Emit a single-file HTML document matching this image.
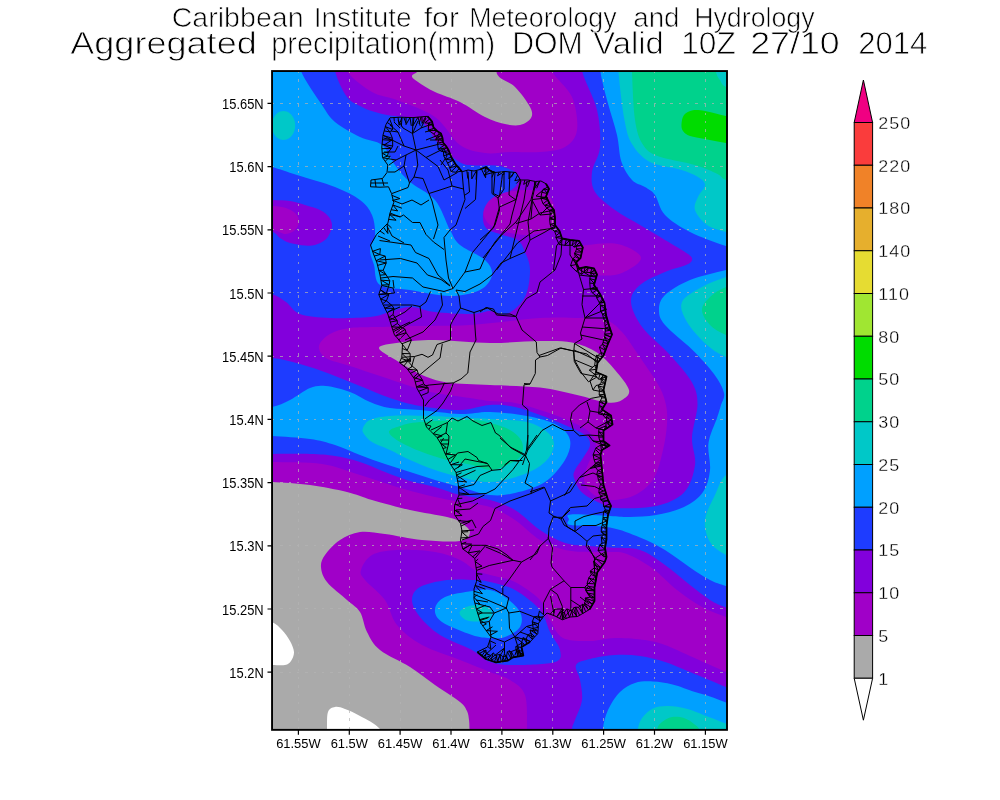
<!DOCTYPE html>
<html><head><meta charset="utf-8"><title>Aggregated precipitation</title>
<style>html,body{margin:0;padding:0;background:#fff}svg{display:block}text{font-family:"Liberation Sans",sans-serif;fill:#000}</style></head><body>
<svg width="1000" height="800" viewBox="0 0 1000 800">
<rect width="1000" height="800" fill="#fff"/>
<defs><clipPath id="pc"><rect x="272" y="71" width="455" height="659"/></clipPath></defs>
<g clip-path="url(#pc)">
<rect x="272" y="71" width="455" height="659" fill="#1e3cff"/>
<path fill="#8200dc" d="M255.0,199.0C258.0,194.7 267.2,199.7 273.0,200.0C278.8,200.3 284.7,200.2 290.0,201.0C295.3,201.8 300.0,203.5 305.0,205.0C310.0,206.5 316.0,208.0 320.0,210.0C324.0,212.0 327.0,214.5 329.0,217.0C331.0,219.5 331.8,222.3 332.0,225.0C332.2,227.7 331.2,230.5 330.0,233.0C328.8,235.5 327.5,238.0 325.0,240.0C322.5,242.0 318.3,244.1 315.0,245.0C311.7,245.9 309.2,245.8 305.0,245.5C300.8,245.2 294.2,244.2 290.0,243.0C285.8,241.8 282.8,239.8 280.0,238.0C277.2,236.2 277.2,234.0 273.0,232.0C268.8,230.0 258.0,231.5 255.0,226.0C252.0,220.5 252.0,203.3 255.0,199.0Z"/>
<path fill="#8200dc" d="M335.0,50.0C293.8,53.5 333.0,63.2 335.0,71.0C337.0,78.8 342.5,91.0 347.0,97.0C351.5,103.0 357.3,104.5 362.0,107.0C366.7,109.5 370.3,110.6 375.0,112.0C379.7,113.4 384.2,114.6 390.0,115.5C395.8,116.4 405.0,116.7 410.0,117.5C415.0,118.3 417.0,118.7 420.0,120.5C423.0,122.3 425.5,125.3 428.0,128.5C430.5,131.7 432.3,136.2 435.0,139.5C437.7,142.8 441.0,145.5 444.0,148.5C447.0,151.5 449.5,154.8 453.0,157.5C456.5,160.2 460.5,163.2 465.0,164.5C469.5,165.8 474.2,165.2 480.0,165.5C485.8,165.8 493.2,164.6 499.5,166.0C505.8,167.4 514.8,170.7 517.5,174.0C520.2,177.3 518.5,182.5 516.0,186.0C513.5,189.5 507.0,192.2 502.5,195.0C498.0,197.8 492.2,199.2 489.0,202.5C485.8,205.8 483.5,210.2 483.0,214.5C482.5,218.8 483.2,224.8 486.0,228.0C488.8,231.2 494.2,232.0 499.5,234.0C504.8,236.0 513.2,237.0 517.5,240.0C521.8,243.0 522.9,247.0 525.0,252.0C527.1,257.0 530.0,262.5 530.0,270.0C530.0,277.5 528.8,289.7 525.0,297.0C521.2,304.3 512.8,311.7 507.0,314.0C501.2,316.3 495.8,311.0 490.0,311.0C484.2,311.0 481.2,313.8 472.0,314.0C462.8,314.2 445.3,313.2 435.0,312.0C424.7,310.8 417.5,307.0 410.0,307.0C402.5,307.0 396.7,310.3 390.0,312.0C383.3,313.7 380.0,316.0 370.0,317.0C360.0,318.0 341.7,318.5 330.0,318.0C318.3,317.5 307.3,316.7 300.0,314.0C292.7,311.3 290.7,305.3 286.0,302.0C281.3,298.7 278.0,296.0 272.0,294.0C266.0,292.0 253.7,279.0 250.0,290.0C246.3,301.0 246.3,348.7 250.0,360.0C253.7,371.3 263.7,357.3 272.0,358.0C280.3,358.7 290.3,361.3 300.0,364.0C309.7,366.7 320.0,370.3 330.0,374.0C340.0,377.7 350.0,382.0 360.0,386.0C370.0,390.0 380.0,394.7 390.0,398.0C400.0,401.3 408.3,404.0 420.0,406.0C431.7,408.0 448.3,410.2 460.0,410.0C471.7,409.8 480.8,405.5 490.0,405.0C499.2,404.5 506.7,405.3 515.0,407.0C523.3,408.7 531.7,412.0 540.0,415.0C548.3,418.0 557.5,421.7 565.0,425.0C572.5,428.3 580.8,431.7 585.0,435.0C589.2,438.3 590.3,441.2 590.0,445.0C589.7,448.8 585.5,453.8 583.0,458.0C580.5,462.2 576.5,466.7 575.0,470.0C573.5,473.3 572.8,474.2 574.0,478.0C575.2,481.8 577.5,488.2 582.0,492.5C586.5,496.8 595.5,500.9 601.0,503.5C606.5,506.1 605.8,507.6 615.0,508.0C624.2,508.4 644.5,508.6 656.0,506.0C667.5,503.4 677.5,499.3 684.0,492.5C690.5,485.7 693.7,474.2 695.0,465.0C696.3,455.8 691.6,447.6 692.0,437.5C692.4,427.4 697.5,413.7 697.5,404.5C697.5,395.3 696.6,390.8 692.0,382.5C687.4,374.2 678.2,364.2 670.0,355.0C661.8,345.8 649.0,336.3 642.5,327.5C636.0,318.7 631.4,309.1 631.0,302.0C630.6,294.9 634.3,290.0 640.0,285.0C645.7,280.0 657.3,275.3 665.0,272.0C672.7,268.7 681.5,267.0 686.0,265.0C690.5,263.0 691.7,261.8 692.0,260.0C692.3,258.2 692.5,257.3 688.0,254.0C683.5,250.7 673.0,244.8 665.0,240.0C657.0,235.2 648.3,230.0 640.0,225.0C631.7,220.0 622.5,215.5 615.0,210.0C607.5,204.5 598.8,198.3 595.0,192.0C591.2,185.7 591.2,179.5 592.0,172.0C592.8,164.5 599.2,157.3 600.0,147.0C600.8,136.7 600.0,122.7 597.0,110.0C594.0,97.3 584.5,81.0 582.0,71.0C579.5,61.0 623.2,53.5 582.0,50.0C540.8,46.5 376.2,46.5 335.0,50.0Z"/>
<path fill="#8200dc" d="M250.0,454.0C253.7,404.7 262.0,454.0 272.0,454.0C282.0,454.0 299.5,453.7 310.0,454.0C320.5,454.3 326.7,454.7 335.0,456.0C343.3,457.3 351.7,459.3 360.0,462.0C368.3,464.7 376.7,468.8 385.0,472.0C393.3,475.2 401.7,478.5 410.0,481.0C418.3,483.5 426.7,484.7 435.0,487.0C443.3,489.3 450.8,492.8 460.0,495.0C469.2,497.2 480.8,497.5 490.0,500.0C499.2,502.5 506.7,505.0 515.0,510.0C523.3,515.0 531.7,524.5 540.0,530.0C548.3,535.5 556.7,540.3 565.0,543.0C573.3,545.7 582.5,545.2 590.0,546.0C597.5,546.8 601.7,546.8 610.0,547.5C618.3,548.2 630.8,547.1 640.0,550.0C649.2,552.9 656.7,559.2 665.0,565.0C673.3,570.8 682.5,579.2 690.0,585.0C697.5,590.8 704.0,596.2 710.0,600.0C716.0,603.8 719.3,604.8 726.0,607.5C732.7,610.2 746.0,592.2 750.0,616.0C754.0,639.8 833.3,727.7 750.0,750.0C666.7,772.3 333.3,799.3 250.0,750.0C166.7,700.7 246.3,503.3 250.0,454.0Z"/>
<path fill="#a000c8" d="M255.0,205.0C258.0,202.3 267.8,205.5 273.0,206.0C278.2,206.5 282.2,206.7 286.0,208.0C289.8,209.3 293.8,211.7 296.0,214.0C298.2,216.3 299.2,219.3 299.0,222.0C298.8,224.7 297.2,228.0 295.0,230.0C292.8,232.0 289.0,233.8 286.0,234.0C283.0,234.2 282.2,233.0 277.0,231.0C271.8,229.0 258.7,226.3 255.0,222.0C251.3,217.7 252.0,207.7 255.0,205.0Z"/>
<path fill="#a000c8" d="M347.0,50.0C312.8,53.5 342.8,64.0 347.0,71.0C351.2,78.0 363.7,87.2 372.0,92.0C380.3,96.8 386.5,95.8 397.0,100.0C407.5,104.2 424.5,109.5 435.0,117.0C445.5,124.5 451.7,139.0 460.0,145.0C468.3,151.0 476.7,151.8 485.0,153.0C493.3,154.2 500.8,152.2 510.0,152.0C519.2,151.8 530.8,152.8 540.0,152.0C549.2,151.2 558.8,150.7 565.0,147.0C571.2,143.3 575.8,138.3 577.0,130.0C578.2,121.7 576.2,106.8 572.0,97.0C567.8,87.2 555.3,78.8 552.0,71.0C548.7,63.2 586.2,53.5 552.0,50.0C517.8,46.5 381.2,46.5 347.0,50.0Z"/>
<path fill="#a000c8" d="M319.0,346.0C319.7,342.0 324.8,337.0 330.0,334.0C335.2,331.0 341.7,329.2 350.0,328.0C358.3,326.8 370.0,327.3 380.0,327.0C390.0,326.7 395.0,326.3 410.0,326.0C425.0,325.7 448.3,326.3 470.0,325.0C491.7,323.7 521.7,319.2 540.0,318.0C558.3,316.8 569.0,317.7 580.0,318.0C591.0,318.3 599.0,317.7 606.0,320.0C613.0,322.3 617.2,327.0 622.0,332.0C626.8,337.0 630.7,343.8 635.0,350.0C639.3,356.2 643.8,362.7 648.0,369.0C652.2,375.3 657.0,382.0 660.0,388.0C663.0,394.0 664.8,399.0 666.0,405.0C667.2,411.0 667.5,416.5 667.0,424.0C666.5,431.5 665.2,441.0 663.0,450.0C660.8,459.0 658.3,470.7 654.0,478.0C649.7,485.3 643.5,490.3 637.0,494.0C630.5,497.7 621.5,499.5 615.0,500.0C608.5,500.5 602.7,499.0 598.0,497.0C593.3,495.0 589.3,491.3 587.0,488.0C584.7,484.7 583.7,481.3 584.0,477.0C584.3,472.7 587.0,467.0 589.0,462.0C591.0,457.0 596.2,452.2 596.0,447.0C595.8,441.8 593.2,435.7 588.0,431.0C582.8,426.3 573.0,422.5 565.0,419.0C557.0,415.5 548.3,412.7 540.0,410.0C531.7,407.3 523.3,404.5 515.0,403.0C506.7,401.5 497.5,401.8 490.0,401.0C482.5,400.2 480.0,399.5 470.0,398.0C460.0,396.5 440.0,394.0 430.0,392.0C420.0,390.0 418.3,388.7 410.0,386.0C401.7,383.3 390.0,379.3 380.0,376.0C370.0,372.7 359.0,369.0 350.0,366.0C341.0,363.0 331.2,361.3 326.0,358.0C320.8,354.7 318.3,350.0 319.0,346.0Z"/>
<path fill="#a000c8" d="M483.5,212.0C483.7,208.7 485.9,204.7 488.0,202.0C490.1,199.3 492.3,197.8 496.0,196.0C499.7,194.2 504.3,192.5 510.0,191.5C515.7,190.5 524.0,189.8 530.0,190.0C536.0,190.2 542.0,190.5 546.0,193.0C550.0,195.5 552.3,200.2 554.0,205.0C555.7,209.8 557.0,217.7 556.0,222.0C555.0,226.3 552.8,228.8 548.0,231.0C543.2,233.2 533.3,234.7 527.0,235.0C520.7,235.3 515.0,234.0 510.0,233.0C505.0,232.0 500.8,230.8 497.0,229.0C493.2,227.2 489.2,224.8 487.0,222.0C484.8,219.2 483.3,215.3 483.5,212.0Z"/>
<path fill="#a000c8" d="M572.0,250.0C574.3,246.2 580.9,246.1 588.0,245.0C595.1,243.9 607.0,242.7 614.5,243.5C622.0,244.3 628.6,247.6 633.0,250.0C637.4,252.4 641.0,255.2 641.0,258.0C641.0,260.8 637.4,264.2 633.0,267.0C628.6,269.8 622.0,273.8 614.5,275.0C607.0,276.2 594.8,275.2 588.0,274.0C581.2,272.8 576.7,272.0 574.0,268.0C571.3,264.0 569.7,253.8 572.0,250.0Z"/>
<path fill="#a000c8" d="M250.0,462.0C253.7,414.0 260.0,461.7 272.0,462.0C284.0,462.3 307.3,461.8 322.0,464.0C336.7,466.2 347.5,471.2 360.0,475.0C372.5,478.8 384.5,483.3 397.0,487.0C409.5,490.7 424.5,494.5 435.0,497.0C445.5,499.5 450.8,500.3 460.0,502.0C469.2,503.7 480.8,504.0 490.0,507.0C499.2,510.0 506.7,514.5 515.0,520.0C523.3,525.5 531.7,535.0 540.0,540.0C548.3,545.0 556.7,548.0 565.0,550.0C573.3,552.0 582.5,551.7 590.0,552.0C597.5,552.3 603.8,551.7 610.0,552.0C616.2,552.3 620.0,551.3 627.0,554.0C634.0,556.7 643.7,562.0 652.0,568.0C660.3,574.0 668.7,583.5 677.0,590.0C685.3,596.5 693.8,602.5 702.0,607.0C710.2,611.5 718.0,613.8 726.0,617.0C734.0,620.2 746.0,603.8 750.0,626.0C754.0,648.2 833.3,729.3 750.0,750.0C666.7,770.7 333.3,798.0 250.0,750.0C166.7,702.0 246.3,510.0 250.0,462.0Z"/>
<path fill="#aaaaaa" d="M412.0,76.0C412.3,73.8 417.8,73.3 420.0,69.0C422.2,64.7 412.2,53.2 425.0,50.0C437.8,46.8 485.0,46.0 497.0,50.0C509.0,54.0 494.0,67.8 497.0,74.0C500.0,80.2 509.5,81.5 515.0,87.0C520.5,92.5 527.3,101.8 530.0,107.0C532.7,112.2 532.7,115.0 531.0,118.0C529.3,121.0 524.3,124.0 520.0,125.0C515.7,126.0 510.8,125.3 505.0,124.0C499.2,122.7 492.5,120.7 485.0,117.0C477.5,113.3 468.3,106.2 460.0,102.0C451.7,97.8 442.0,95.3 435.0,92.0C428.0,88.7 421.8,84.7 418.0,82.0C414.2,79.3 411.7,78.2 412.0,76.0Z"/>
<path fill="#aaaaaa" d="M379.0,348.0C379.0,344.7 390.7,343.8 400.0,342.5C409.3,341.2 420.0,339.9 435.0,340.0C450.0,340.1 472.5,342.8 490.0,343.0C507.5,343.2 526.3,341.1 540.0,341.0C553.7,340.9 562.5,340.6 572.0,342.5C581.5,344.4 589.8,347.9 597.0,352.5C604.2,357.1 609.7,363.8 615.0,370.0C620.3,376.2 627.8,385.0 629.0,390.0C630.2,395.0 625.7,397.9 622.0,400.0C618.3,402.1 614.5,403.3 607.0,402.5C599.5,401.7 588.2,397.5 577.0,395.0C565.8,392.5 554.5,389.2 540.0,387.5C525.5,385.8 505.5,385.8 490.0,385.0C474.5,384.2 458.3,384.2 447.0,382.5C435.7,380.8 429.8,378.3 422.0,375.0C414.2,371.7 407.2,367.0 400.0,362.5C392.8,358.0 379.0,351.3 379.0,348.0Z"/>
<path fill="#aaaaaa" d="M250.0,482.0C253.7,437.3 262.0,481.5 272.0,482.0C282.0,482.5 297.5,483.3 310.0,485.0C322.5,486.7 336.7,489.5 347.0,492.0C357.3,494.5 361.5,497.0 372.0,500.0C382.5,503.0 397.5,507.2 410.0,510.0C422.5,512.8 438.7,515.0 447.0,517.0C455.3,519.0 456.2,519.5 460.0,522.0C463.8,524.5 470.0,528.8 470.0,532.0C470.0,535.2 468.0,539.7 460.0,541.0C452.0,542.3 434.5,541.2 422.0,540.0C409.5,538.8 395.3,535.3 385.0,534.0C374.7,532.7 367.5,531.0 360.0,532.0C352.5,533.0 345.8,536.2 340.0,540.0C334.2,543.8 328.2,550.5 325.0,555.0C321.8,559.5 320.7,562.5 321.0,567.0C321.3,571.5 322.7,576.5 327.0,582.0C331.3,587.5 341.5,595.0 347.0,600.0C352.5,605.0 356.7,606.7 360.0,612.0C363.3,617.3 363.7,625.7 367.0,632.0C370.3,638.3 372.8,644.2 380.0,650.0C387.2,655.8 400.8,661.2 410.0,667.0C419.2,672.8 426.7,679.2 435.0,685.0C443.3,690.8 454.7,697.7 460.0,702.0C465.3,706.3 465.5,708.0 467.0,711.0C468.5,714.0 468.6,717.0 469.0,720.0C469.4,723.0 469.4,724.0 469.5,729.0C469.6,734.0 506.1,746.5 469.5,750.0C432.9,753.5 286.6,794.7 250.0,750.0C213.4,705.3 246.3,526.7 250.0,482.0Z"/>
<path fill="#ffffff" d="M255.0,618.0C257.8,610.8 267.5,620.0 272.0,622.0C276.5,624.0 279.0,626.8 282.0,630.0C285.0,633.2 288.0,637.3 290.0,641.0C292.0,644.7 293.8,648.7 294.0,652.0C294.2,655.3 292.5,658.8 291.0,661.0C289.5,663.2 288.2,664.3 285.0,665.0C281.8,665.7 277.0,665.0 272.0,665.0C267.0,665.0 257.8,672.8 255.0,665.0C252.2,657.2 252.2,625.2 255.0,618.0Z"/>
<path fill="#ffffff" d="M327.0,750.0C316.5,746.5 326.8,735.3 327.0,729.0C327.2,722.7 326.7,715.7 328.0,712.0C329.3,708.3 332.2,707.5 335.0,707.0C337.8,706.5 340.8,707.5 345.0,709.0C349.2,710.5 354.2,712.7 360.0,716.0C365.8,719.3 375.0,723.3 380.0,729.0C385.0,734.7 398.8,746.5 390.0,750.0C381.2,753.5 337.5,753.5 327.0,750.0Z"/>
<path fill="#8200dc" d="M361.0,570.0C362.2,565.8 366.0,558.3 372.0,555.0C378.0,551.7 386.5,550.5 397.0,550.0C407.5,549.5 424.5,550.3 435.0,552.0C445.5,553.7 453.3,557.0 460.0,560.0C466.7,563.0 470.0,567.5 475.0,570.0C480.0,572.5 483.3,573.0 490.0,575.0C496.7,577.0 506.7,577.8 515.0,582.0C523.3,586.2 534.2,593.7 540.0,600.0C545.8,606.3 546.2,613.7 550.0,620.0C553.8,626.3 556.3,634.5 563.0,638.0C569.7,641.5 581.3,641.0 590.0,641.0C598.7,641.0 605.8,638.2 615.0,638.0C624.2,637.8 636.7,638.8 645.0,640.0C653.3,641.2 657.5,642.3 665.0,645.0C672.5,647.7 679.8,651.5 690.0,656.0C700.2,660.5 716.0,667.8 726.0,672.0C736.0,676.2 746.0,668.0 750.0,681.0C754.0,694.0 787.2,738.5 750.0,750.0C712.8,761.5 564.2,753.5 527.0,750.0C489.8,746.5 527.3,738.2 527.0,729.0C526.7,719.8 527.8,703.2 525.0,695.0C522.2,686.8 515.8,683.8 510.0,680.0C504.2,676.2 498.3,675.3 490.0,672.0C481.7,668.7 471.3,664.5 460.0,660.0C448.7,655.5 432.5,650.8 422.0,645.0C411.5,639.2 403.2,632.5 397.0,625.0C390.8,617.5 390.3,607.5 385.0,600.0C379.7,592.5 369.0,585.0 365.0,580.0C361.0,575.0 359.8,574.2 361.0,570.0Z"/>
<path fill="#1e3cff" d="M412.0,600.0C412.0,595.0 414.2,590.3 420.0,587.0C425.8,583.7 437.8,581.2 447.0,580.0C456.2,578.8 467.8,579.7 475.0,580.0C482.2,580.3 483.3,580.3 490.0,582.0C496.7,583.7 506.7,585.3 515.0,590.0C523.3,594.7 534.2,603.0 540.0,610.0C545.8,617.0 546.7,625.3 550.0,632.0C553.3,638.7 559.2,645.0 560.0,650.0C560.8,655.0 562.5,659.5 555.0,662.0C547.5,664.5 525.8,665.0 515.0,665.0C504.2,665.0 497.2,664.5 490.0,662.0C482.8,659.5 480.3,654.5 472.0,650.0C463.7,645.5 448.7,640.5 440.0,635.0C431.3,629.5 424.7,622.8 420.0,617.0C415.3,611.2 412.0,605.0 412.0,600.0Z"/>
<path fill="#1e3cff" d="M576.0,665.0C577.7,661.5 583.5,660.7 590.0,659.0C596.5,657.3 606.7,655.5 615.0,655.0C623.3,654.5 631.7,654.8 640.0,656.0C648.3,657.2 656.7,659.3 665.0,662.0C673.3,664.7 679.8,667.8 690.0,672.0C700.2,676.2 716.0,683.0 726.0,687.0C736.0,691.0 746.0,685.5 750.0,696.0C754.0,706.5 779.8,741.0 750.0,750.0C720.2,759.0 600.7,753.5 571.0,750.0C541.3,746.5 571.3,734.0 572.0,729.0C572.7,724.0 573.3,724.8 575.0,720.0C576.7,715.2 581.2,706.7 582.0,700.0C582.8,693.3 581.0,685.8 580.0,680.0C579.0,674.2 574.3,668.5 576.0,665.0Z"/>
<path fill="#00a0ff" d="M301.0,50.0C309.5,53.5 297.5,61.8 301.0,71.0C304.5,80.2 316.3,96.5 322.0,105.0C327.7,113.5 328.7,116.7 335.0,122.0C341.3,127.3 352.2,133.2 360.0,137.0C367.8,140.8 376.2,140.3 382.0,145.0C387.8,149.7 390.3,158.8 395.0,165.0C399.7,171.2 403.3,176.2 410.0,182.0C416.7,187.8 428.3,192.0 435.0,200.0C441.7,208.0 445.8,222.5 450.0,230.0C454.2,237.5 454.2,240.0 460.0,245.0C465.8,250.0 479.7,255.0 485.0,260.0C490.3,265.0 492.8,270.0 492.0,275.0C491.2,280.0 487.0,286.5 480.0,290.0C473.0,293.5 461.7,296.0 450.0,296.0C438.3,296.0 421.7,291.8 410.0,290.0C398.3,288.2 386.0,289.2 380.0,285.0C374.0,280.8 375.7,270.8 374.0,265.0C372.3,259.2 369.8,255.0 370.0,250.0C370.2,245.0 374.7,240.8 375.0,235.0C375.3,229.2 374.5,220.8 372.0,215.0C369.5,209.2 366.2,204.7 360.0,200.0C353.8,195.3 345.5,191.2 335.0,187.0C324.5,182.8 307.5,178.3 297.0,175.0C286.5,171.7 279.8,169.0 272.0,167.0C264.2,165.0 253.7,182.5 250.0,163.0C246.3,143.5 241.5,68.8 250.0,50.0C258.5,31.2 292.5,46.5 301.0,50.0Z"/>
<path fill="#00a0ff" d="M600.0,50.0C575.1,53.7 599.2,63.1 600.5,72.0C601.8,80.9 605.2,93.0 608.0,103.5C610.8,114.0 614.8,125.2 617.0,135.0C619.2,144.8 619.0,154.5 621.5,162.0C624.0,169.5 628.1,175.8 632.0,180.0C635.9,184.2 641.2,184.5 645.0,187.0C648.8,189.5 651.7,190.3 655.0,195.0C658.3,199.7 659.2,208.8 665.0,215.0C670.8,221.2 679.8,226.8 690.0,232.0C700.2,237.2 716.0,242.7 726.0,246.0C736.0,249.3 746.0,284.7 750.0,252.0C754.0,219.3 775.0,83.7 750.0,50.0C725.0,16.3 624.9,46.3 600.0,50.0Z"/>
<path fill="#00a0ff" d="M750.0,264.0C746.0,210.2 736.0,267.3 726.0,270.0C716.0,272.7 700.2,275.8 690.0,280.0C679.8,284.2 670.2,290.0 665.0,295.0C659.8,300.0 659.0,305.0 659.0,310.0C659.0,315.0 659.5,318.4 665.0,325.0C670.5,331.6 683.8,341.3 692.0,349.5C700.2,357.7 708.7,366.8 714.0,374.0C719.3,381.2 722.8,387.8 724.0,393.0C725.2,398.2 722.2,400.8 721.0,405.0C719.8,409.2 719.1,411.7 717.0,418.0C714.9,424.3 709.7,434.3 708.5,443.0C707.3,451.7 710.9,461.8 710.0,470.0C709.1,478.2 707.3,485.8 703.0,492.0C698.7,498.2 691.8,503.2 684.0,507.0C676.2,510.8 665.0,513.3 656.0,515.0C647.0,516.7 637.7,516.8 630.0,517.0C622.3,517.2 619.8,516.4 610.0,516.0C600.2,515.6 577.8,513.9 571.0,514.5C564.2,515.1 569.0,517.8 569.0,519.5C569.0,521.2 564.2,523.7 571.0,525.0C577.8,526.3 598.5,525.4 610.0,527.5C621.5,529.6 630.8,533.8 640.0,537.5C649.2,541.2 656.7,545.0 665.0,550.0C673.3,555.0 682.5,562.5 690.0,567.5C697.5,572.5 704.0,576.9 710.0,580.0C716.0,583.1 719.3,583.8 726.0,586.0C732.7,588.2 746.0,646.7 750.0,593.0C754.0,539.3 754.0,317.8 750.0,264.0Z"/>
<path fill="#00a0ff" d="M250.0,409.0C253.7,404.2 265.3,408.5 272.0,407.0C278.7,405.5 283.7,403.2 290.0,400.0C296.3,396.8 304.0,390.3 310.0,388.0C316.0,385.7 319.3,385.3 326.0,386.0C332.7,386.7 342.7,389.3 350.0,392.0C357.3,394.7 363.3,399.3 370.0,402.0C376.7,404.7 381.7,406.7 390.0,408.0C398.3,409.3 408.3,409.0 420.0,410.0C431.7,411.0 448.3,413.7 460.0,414.0C471.7,414.3 478.8,411.7 490.0,412.0C501.2,412.3 515.8,413.8 527.0,416.0C538.2,418.2 549.8,421.0 557.0,425.0C564.2,429.0 568.7,434.2 570.0,440.0C571.3,445.8 569.2,453.0 565.0,460.0C560.8,467.0 553.3,476.5 545.0,482.0C536.7,487.5 524.2,490.8 515.0,493.0C505.8,495.2 499.2,496.0 490.0,495.0C480.8,494.0 469.2,489.5 460.0,487.0C450.8,484.5 443.3,482.5 435.0,480.0C426.7,477.5 418.3,474.7 410.0,472.0C401.7,469.3 393.3,466.8 385.0,464.0C376.7,461.2 368.3,458.2 360.0,455.0C351.7,451.8 343.3,447.7 335.0,445.0C326.7,442.3 320.5,440.5 310.0,439.0C299.5,437.5 282.0,436.5 272.0,436.0C262.0,435.5 253.7,440.5 250.0,436.0C246.3,431.5 246.3,413.8 250.0,409.0Z"/>
<path fill="#00a0ff" d="M435.0,609.0C435.5,604.8 438.8,600.0 445.0,597.0C451.2,594.0 464.5,592.2 472.0,591.0C479.5,589.8 484.5,589.0 490.0,590.0C495.5,591.0 500.0,593.3 505.0,597.0C510.0,600.7 517.5,607.0 520.0,612.0C522.5,617.0 522.5,622.8 520.0,627.0C517.5,631.2 510.0,635.2 505.0,637.0C500.0,638.8 495.5,638.3 490.0,638.0C484.5,637.7 480.0,637.7 472.0,635.0C464.0,632.3 448.2,626.3 442.0,622.0C435.8,617.7 434.5,613.2 435.0,609.0Z"/>
<path fill="#00a0ff" d="M602.0,750.0C577.5,746.5 601.8,735.7 602.8,729.0C603.8,722.3 605.1,716.2 608.0,710.0C610.9,703.8 615.5,696.5 620.0,692.0C624.5,687.5 629.5,684.8 635.0,683.0C640.5,681.2 646.8,681.2 653.0,681.5C659.2,681.8 665.5,682.8 672.5,684.5C679.5,686.2 688.8,690.0 695.0,692.0C701.2,694.0 704.8,694.8 710.0,696.5C715.2,698.2 719.3,700.1 726.0,702.5C732.7,704.9 746.0,703.1 750.0,711.0C754.0,718.9 774.7,743.5 750.0,750.0C725.3,756.5 626.5,753.5 602.0,750.0Z"/>
<path fill="#00c8c8" d="M295.2,125.5C295.2,127.9 294.6,130.7 293.6,132.8C292.6,134.9 291.1,136.9 289.4,138.1C287.7,139.3 285.5,140.0 283.5,140.0C281.5,140.0 279.3,139.3 277.6,138.1C275.9,136.9 274.4,134.9 273.4,132.8C272.4,130.7 271.8,127.9 271.8,125.5C271.8,123.1 272.4,120.3 273.4,118.2C274.4,116.1 275.9,114.1 277.6,112.9C279.3,111.7 281.5,111.0 283.5,111.0C285.5,111.0 287.7,111.7 289.4,112.9C291.1,114.1 292.6,116.1 293.6,118.2C294.6,120.3 295.2,123.1 295.2,125.5Z"/>
<path fill="#00c8c8" d="M618.5,50.0C596.6,53.7 617.5,60.3 618.5,72.0C619.5,83.7 622.2,108.0 624.5,120.0C626.8,132.0 627.8,137.0 632.0,144.0C636.2,151.0 642.0,157.8 650.0,162.0C658.0,166.2 672.0,167.0 680.0,169.5C688.0,172.0 693.8,174.4 698.0,177.0C702.2,179.6 705.0,181.7 705.0,185.0C705.0,188.3 699.7,192.8 698.0,197.0C696.3,201.2 693.5,205.3 695.0,210.0C696.5,214.7 701.8,221.3 707.0,225.0C712.2,228.7 718.8,229.8 726.0,232.0C733.2,234.2 746.0,268.3 750.0,238.0C754.0,207.7 771.9,81.3 750.0,50.0C728.1,18.7 640.4,46.3 618.5,50.0Z"/>
<path fill="#00c8c8" d="M750.0,270.0C746.0,255.3 734.0,274.2 726.0,277.0C718.0,279.8 709.3,282.8 702.0,287.0C694.7,291.2 684.5,296.2 682.0,302.0C679.5,307.8 682.8,314.8 687.0,322.0C691.2,329.2 700.5,339.2 707.0,345.0C713.5,350.8 718.8,353.7 726.0,357.0C733.2,360.3 746.0,379.5 750.0,365.0C754.0,350.5 754.0,284.7 750.0,270.0Z"/>
<path fill="#00c8c8" d="M750.0,465.0C746.0,450.0 731.8,470.0 726.0,475.0C720.2,480.0 718.5,487.5 715.0,495.0C711.5,502.5 705.8,512.2 705.0,520.0C704.2,527.8 706.5,536.2 710.0,542.0C713.5,547.8 719.3,551.2 726.0,555.0C732.7,558.8 746.0,580.0 750.0,565.0C754.0,550.0 754.0,480.0 750.0,465.0Z"/>
<path fill="#00c8c8" d="M363.0,428.0C364.0,425.7 365.5,422.0 370.0,420.0C374.5,418.0 380.0,416.7 390.0,416.0C400.0,415.3 416.7,415.7 430.0,416.0C443.3,416.3 460.0,417.5 470.0,418.0C480.0,418.5 480.5,418.3 490.0,419.0C499.5,419.7 517.5,419.8 527.0,422.0C536.5,424.2 542.5,428.2 547.0,432.0C551.5,435.8 554.3,440.0 554.0,445.0C553.7,450.0 550.3,457.0 545.0,462.0C539.7,467.0 531.2,471.7 522.0,475.0C512.8,478.3 500.3,481.7 490.0,482.0C479.7,482.3 469.2,479.0 460.0,477.0C450.8,475.0 443.3,472.8 435.0,470.0C426.7,467.2 417.5,463.3 410.0,460.0C402.5,456.7 396.3,453.0 390.0,450.0C383.7,447.0 376.3,444.7 372.0,442.0C367.7,439.3 365.5,436.3 364.0,434.0C362.5,431.7 362.0,430.3 363.0,428.0Z"/>
<path fill="#00c8c8" d="M459.5,613.0C459.5,610.8 462.9,608.3 466.0,607.0C469.1,605.7 474.3,604.9 478.0,605.0C481.7,605.1 485.7,606.1 488.0,607.5C490.3,608.9 492.0,611.5 492.0,613.5C492.0,615.5 490.3,618.2 488.0,619.5C485.7,620.8 481.7,621.4 478.0,621.5C474.3,621.6 469.1,621.4 466.0,620.0C462.9,618.6 459.5,615.2 459.5,613.0Z"/>
<path fill="#00c8c8" d="M637.0,750.0C618.3,746.5 637.1,734.4 638.0,729.0C638.9,723.6 640.0,720.9 642.5,717.5C645.0,714.1 648.8,710.4 653.0,708.5C657.2,706.6 662.2,705.9 668.0,706.0C673.8,706.1 680.5,707.1 687.5,709.0C694.5,710.9 703.6,715.1 710.0,717.5C716.4,719.9 719.3,721.1 726.0,723.5C732.7,725.9 746.0,727.6 750.0,732.0C754.0,736.4 768.8,747.0 750.0,750.0C731.2,753.0 655.7,753.5 637.0,750.0Z"/>
<path fill="#00d28c" d="M632.0,50.0C618.7,53.7 631.5,60.3 632.0,72.0C632.5,83.7 633.2,108.0 635.0,120.0C636.8,132.0 638.8,138.0 642.5,144.0C646.2,150.0 648.8,152.5 657.5,156.0C666.2,159.5 685.0,162.0 695.0,165.0C705.0,168.0 712.3,171.5 717.5,174.0C722.7,176.5 720.6,178.0 726.0,180.0C731.4,182.0 746.0,200.2 750.0,186.0C754.0,171.8 754.0,111.5 750.0,95.0C746.0,78.5 731.0,89.5 726.0,87.0C721.0,84.5 721.7,82.5 720.0,80.0C718.3,77.5 717.3,77.0 716.0,72.0C714.7,67.0 726.0,53.7 712.0,50.0C698.0,46.3 645.3,46.3 632.0,50.0Z"/>
<path fill="#00d28c" d="M750.0,280.0C746.0,270.8 732.7,284.2 726.0,287.0C719.3,289.8 714.0,293.2 710.0,297.0C706.0,300.8 702.0,305.3 702.0,310.0C702.0,314.7 706.0,320.8 710.0,325.0C714.0,329.2 719.3,332.2 726.0,335.0C732.7,337.8 746.0,351.2 750.0,342.0C754.0,332.8 754.0,289.2 750.0,280.0Z"/>
<path fill="#00d28c" d="M389.0,432.0C389.0,429.3 394.8,427.7 400.0,426.0C405.2,424.3 408.3,423.0 420.0,422.0C431.7,421.0 458.3,419.8 470.0,420.0C481.7,420.2 483.3,421.3 490.0,423.0C496.7,424.7 504.7,426.8 510.0,430.0C515.3,433.2 520.3,437.5 522.0,442.0C523.7,446.5 523.3,452.8 520.0,457.0C516.7,461.2 507.0,464.8 502.0,467.0C497.0,469.2 495.0,470.3 490.0,470.0C485.0,469.7 479.2,466.7 472.0,465.0C464.8,463.3 455.3,462.2 447.0,460.0C438.7,457.8 429.8,455.0 422.0,452.0C414.2,449.0 405.5,445.3 400.0,442.0C394.5,438.7 389.0,434.7 389.0,432.0Z"/>
<path fill="#00d28c" d="M656.0,750.0C648.5,746.7 656.0,734.7 657.0,730.0C658.0,725.3 659.5,724.2 662.0,722.0C664.5,719.8 668.3,717.7 672.0,717.0C675.7,716.3 680.3,716.8 684.0,718.0C687.7,719.2 691.3,721.8 694.0,724.0C696.7,726.2 698.7,726.7 700.0,731.0C701.3,735.3 709.3,746.8 702.0,750.0C694.7,753.2 663.5,753.3 656.0,750.0Z"/>
<path fill="#00dc00" d="M681.5,124.0C681.7,121.3 682.2,117.2 684.0,115.0C685.8,112.8 688.5,111.2 692.0,110.5C695.5,109.8 699.3,110.1 705.0,111.0C710.7,111.9 718.5,114.5 726.0,116.0C733.5,117.5 746.0,114.8 750.0,120.0C754.0,125.2 754.0,143.2 750.0,147.0C746.0,150.8 733.5,144.3 726.0,143.0C718.5,141.7 711.0,140.2 705.0,139.0C699.0,137.8 693.7,137.3 690.0,136.0C686.3,134.7 684.4,133.0 683.0,131.0C681.6,129.0 681.3,126.7 681.5,124.0Z"/>
<path d="M298.5,71V730M349.5,71V730M400.5,71V730M451.5,71V730M501.5,71V730M552.5,71V730M603.5,71V730M654.5,71V730M705.5,71V730M272,103.5H727M272,166.5H727M272,229.5H727M272,292.5H727M272,356.5H727M272,419.5H727M272,482.5H727M272,545.5H727M272,608.5H727M272,672.5H727" stroke="#b4b4b4" stroke-opacity=".7" stroke-width="1" shape-rendering="crispEdges" stroke-dasharray="2.4 5.9" fill="none"/>
<path d="M390.0,117.8L400.0,117.2L413.0,117.6L427.5,116.3L430.0,119.0L432.0,121.5L433.5,127.5L437.0,131.0L441.0,133.5L442.5,138.0L443.0,142.5L446.0,146.0L448.5,150.0L451.5,157.5L456.0,165.0L459.0,168.0L462.0,171.8L468.0,170.0L474.0,171.0L480.0,169.5L486.0,167.0L489.0,170.0L492.0,171.5L495.0,172.5L505.0,171.5L516.0,172.5L518.0,176.0L520.5,180.0L528.0,180.0L535.5,181.5L541.0,181.0L546.0,183.8L549.0,189.0L546.0,196.5L550.5,205.5L554.0,210.0L555.0,218.0L555.0,225.0L559.5,231.0L562.0,238.5L570.0,240.0L579.0,240.8L582.8,247.5L580.5,258.0L576.0,262.5L579.0,268.5L586.0,267.0L594.0,268.5L597.0,274.5L594.0,285.0L600.0,294.0L604.5,303.0L606.0,315.0L609.0,325.5L612.0,334.5L607.5,345.0L603.5,355.5L597.5,363.0L596.0,372.0L606.5,376.5L603.5,390.0L606.5,402.0L602.0,409.5L611.0,415.5L612.5,424.5L603.5,430.5L603.5,441.0L609.5,445.5L602.0,450.0L600.5,455.0L602.0,470.0L603.5,485.0L608.0,500.0L611.0,506.0L608.0,515.0L606.5,525.5L606.5,539.0L605.0,548.0L606.5,557.0L604.8,562.0L597.3,572.3L594.5,587.5L594.5,601.0L589.5,609.5L577.5,616.5L570.0,617.0L562.3,619.8L555.0,616.0L547.0,613.0L543.5,616.5L538.5,623.3L537.8,633.5L530.0,642.0L521.5,647.0L523.3,655.5L513.0,657.3L508.0,660.5L496.0,662.3L485.8,659.0L477.3,652.0L487.5,647.0L491.0,637.0L485.0,629.0L480.8,623.0L476.5,609.5L474.0,599.5L474.0,589.0L476.5,581.5L476.5,570.5L474.8,558.5L467.0,552.0L462.8,549.0L460.5,540.0L462.0,531.0L460.5,523.5L454.5,514.5L454.5,505.5L459.0,495.0L458.3,484.5L456.0,472.5L450.0,463.5L445.5,454.5L441.0,444.0L437.0,437.5L431.0,431.5L426.5,427.0L423.5,418.0L423.5,400.0L416.8,388.0L414.5,379.0L407.0,368.5L399.5,362.5L401.8,357.3L402.5,344.5L396.5,337.0L394.5,335.0L392.0,327.5L387.8,314.0L382.5,303.5L378.8,294.5L381.8,285.5L380.0,275.0L377.0,263.0L373.5,254.0L370.5,245.0L376.5,234.5L387.0,224.0L387.8,223.5L390.0,213.0L393.8,202.5L391.5,193.5L388.5,186.8L380.0,187.2L370.5,186.8L371.0,180.0L382.5,178.5L387.0,172.5L387.8,165.0L382.5,157.5L381.8,147.0L383.0,135.0L386.0,124.5L390.0,117.8M413.0,118.0L412.5,133.5L416.0,150.0L417.8,165.0L414.0,177.0L409.5,183.0L408.0,187.5L392.0,193.5M414.0,177.0L423.0,178.5L429.0,193.5L432.0,201.0L438.0,225.0L433.5,239.0M416.0,150.0L439.5,144.0L444.0,145.0M416.0,150.0L426.0,157.5L438.0,166.5L444.0,180.0L457.5,172.5M426.0,157.5L444.0,148.5L447.0,156.0L441.0,165.0M416.0,150.0L404.0,146.0L392.0,140.0L383.5,138.0M404.0,146.0L398.0,132.0L390.0,125.0M412.5,133.5L403.0,128.0L398.0,120.0M412.5,133.5L421.0,128.0L426.0,118.0M416.0,150.0L406.0,155.0L396.0,160.0L384.0,158.0M406.0,155.0L404.0,166.0L395.0,172.0L388.0,172.0M404.0,166.0L409.5,183.0M398.0,132.0L391.0,131.0M412.5,133.5L418.0,121.0M421.0,128.0L432.0,124.0M426.0,140.0L441.0,134.0M392.0,140.0L384.0,145.0M396.0,160.0L389.0,165.0M382.0,178.5L384.0,186.0M375.0,180.0L376.0,187.0M371.0,183.0L388.0,183.0M462.0,171.8L463.5,189.0L465.0,199.5L456.0,225.0L450.0,230.0L444.0,237.5M465.0,195.0L469.5,192.0L468.0,172.0M477.0,171.0L475.5,199.5L465.0,208.5M492.0,172.5L492.0,193.5L498.0,198.0L504.0,189.0L504.0,172.5M498.0,198.0L499.5,210.0L495.0,225.0L487.5,234.5L472.5,252.5L465.0,272.0L453.0,288.5M510.0,172.0L509.0,195.0L516.0,200.0L521.0,181.0M516.0,200.0L512.0,215.0L510.0,224.0L495.0,242.0L484.5,258.5L480.0,269.0L465.0,272.0M527.0,181.0L524.0,200.0L518.0,225.0L510.0,258.5L501.0,263.0L492.0,275.0L480.0,284.0L465.0,291.5L456.0,290.0M536.0,182.0L532.0,200.0L540.0,215.0L548.0,207.0M532.0,200.0L528.0,222.0L530.0,240.0L545.0,232.0L555.0,226.0M530.0,240.0L525.0,252.0L510.0,258.5M540.0,215.0L552.0,214.0M543.0,190.0L536.0,196.0L548.0,198.0M403.5,215.0L412.5,222.5L420.0,222.5L426.0,234.5L433.5,242.0L444.0,249.5M444.0,237.5L446.0,260.0L448.5,278.0L453.0,288.5M379.5,240.5L411.0,245.0L415.5,252.5L429.0,258.5L438.0,275.0L450.0,285.5M379.5,260.0L400.5,258.5L417.0,263.0L427.5,275.0L441.0,279.5L450.0,286.0M381.0,278.0L393.0,276.5L412.5,278.0L423.0,287.0L444.0,291.5L453.0,288.5M387.0,226.0L392.0,236.0L404.0,243.0M378.0,236.0L390.0,241.0M381.8,285.5L393.0,288.0L394.5,293.0L379.0,294.5M393.0,280.0L394.0,288.0M459.0,296.0L460.5,308.0L474.0,312.5L487.5,308.0L498.0,314.0L510.0,314.0L516.0,316.5M456.0,290.0L459.0,296.0M460.5,308.0L453.0,320.0L450.5,325.0L450.5,340.0L437.0,344.5L432.5,355.0L428.0,357.3L422.0,354.3L414.5,356.5L401.8,357.3M474.0,312.5L475.5,335.0L476.0,340.0L470.0,352.0L467.8,373.0L461.0,379.0L453.5,382.8L450.5,391.0L443.0,403.0L437.0,410.5L425.0,418.8M441.0,293.0L442.5,305.0L435.0,320.0L423.0,332.0L405.0,340.0M430.5,291.5L426.0,302.0L420.0,306.5L421.5,317.0L405.0,326.0L396.0,333.0M384.0,305.0L412.5,305.0L420.0,306.5M390.0,320.0L405.0,312.0L412.0,306.0M388.0,312.0L400.0,307.0M393.0,330.0L410.0,322.0M442.3,343.8L440.0,358.0L431.0,365.5L422.0,373.0L414.5,379.0M414.5,356.5L411.5,367.0M444.5,382.8L440.0,392.5L429.5,400.0L425.0,406.0M453.5,382.8L429.5,385.0L417.5,387.3M570.0,255.0L576.0,264.0L583.5,289.5L582.0,304.5L585.0,318.0L580.5,333.0L582.0,339.0L574.5,343.5L573.8,351.0L574.5,360.0L582.0,373.5L588.5,381.8L597.0,377.0M561.0,255.0L555.0,270.0L540.0,282.0L537.0,292.5L526.5,298.5L519.0,309.0L516.0,316.5L522.0,330.0L536.3,342.0L537.0,352.5L540.0,357.0L535.5,360.0L535.3,373.5L530.0,384.0L524.0,384.8L522.5,405.0L527.8,409.5L527.8,450.0L525.5,456.0L522.5,465.0M562.0,238.5L561.0,255.0M516.0,316.5L496.5,315.0L493.5,309.0L486.0,307.5L480.0,312.0M540.0,357.0L547.5,355.5L561.0,348.0L573.8,351.0M539.0,355.5L560.0,348.0L573.5,351.0L587.0,354.0L597.5,363.0M573.5,351.0L574.3,361.5L581.0,373.5L596.0,376.5M575.0,360.0L593.0,367.5M583.5,289.5L598.0,288.0M582.0,296.0L601.0,296.0M585.0,318.0L603.0,300.0M585.0,318.0L606.0,318.0M585.0,318.0L607.0,309.0M582.0,327.0L609.0,329.0M580.5,335.0L608.0,341.0M574.5,343.5L600.0,359.0M574.0,350.0L598.0,361.0M579.0,275.0L596.0,277.0M577.0,268.0L590.0,276.0M593.0,390.0L596.0,385.5L603.0,384.0M596.0,372.0L590.0,381.0L593.0,390.0L603.5,392.0M591.5,398.3L579.5,405.0L572.0,412.5L570.5,420.0L573.5,430.5L579.5,435.8L588.5,435.0L593.0,441.0L603.0,442.0M603.5,396.0L591.5,398.3M587.0,402.0L590.0,411.0L599.0,412.5L602.0,409.5M590.0,411.0L588.0,422.0L596.0,428.0L604.0,430.0M588.0,422.0L580.0,428.0M527.8,450.0L542.0,430.5L552.5,424.5L564.5,430.5L573.5,430.5M500.0,438.0L512.0,448.5L525.5,456.0M504.5,465.0L510.5,460.5L522.5,460.5M524.0,383.5L530.0,384.0M431.0,430.0L447.5,422.5L446.0,433.0L437.0,437.5M447.5,422.5L452.0,418.0L458.0,421.0L467.0,416.5L473.0,421.0L482.0,425.5L491.0,422.5L495.5,433.0L498.8,435.0L510.0,447.0L525.0,454.5M446.0,433.0L449.0,436.0L448.5,444.0L441.0,444.0M440.0,440.0L448.5,440.0M448.5,444.0L446.0,454.0M450.0,463.5L457.5,453.0L468.0,451.5L477.0,457.5L478.5,460.5L487.5,463.5L492.0,470.3L501.0,469.5L510.0,460.5L519.0,461.3L525.0,454.5M528.0,435.0L526.5,450.0L525.0,454.5L529.5,463.5L528.0,474.0L525.0,483.0L532.5,487.5L531.0,493.5L544.5,487.5L550.5,501.0L549.0,513.0L553.5,516.0L549.0,528.0L548.3,538.5L540.0,546.0L534.0,555.0L530.0,560.0M537.0,435.0L526.5,450.0M531.0,493.5L510.0,501.0L495.0,508.5L490.5,520.5L483.0,526.5L478.5,534.0L462.0,540.0M519.0,461.3L513.0,469.5L495.0,489.0L486.0,493.5L459.0,495.0M492.0,470.3L480.0,475.5L474.0,484.5L459.0,488.3M457.5,468.0L465.0,459.0L487.5,463.5M456.0,472.5L477.0,466.5L489.0,465.8M457.5,478.5L475.5,470.3M454.5,505.0L472.5,501.0L484.5,495.0M456.0,510.0L470.0,509.0L478.0,503.0M460.5,523.5L472.0,520.0L476.0,528.0M461.0,531.0L474.0,530.0M544.5,487.5L543.5,487.3L530.0,491.8M550.5,501.0L570.0,492.0L579.5,477.5L590.0,468.5L601.0,459.0M564.5,495.5L572.0,483.5M553.3,517.3L562.3,517.3L570.5,507.5L587.0,506.0L594.5,498.5L607.0,495.0M562.3,517.3L567.5,527.0L575.0,531.5L575.0,521.0L584.0,516.5L596.0,513.5L608.0,511.0M575.0,531.5L582.5,525.5L596.0,525.5L606.5,521.0M575.0,531.5L581.0,536.0L587.0,541.3L593.0,536.0L606.5,534.5M587.0,541.3L586.3,546.5L594.5,557.0L594.5,572.0M579.5,477.5L593.0,473.0L602.0,477.0M581.0,485.0L594.5,486.5L603.5,491.0M590.0,468.5L601.0,466.0M553.5,516.0L561.0,519.0L570.0,510.0M561.0,519.0L564.0,525.0L575.0,531.5M548.0,537.5L552.5,548.0L551.0,563.0L552.0,567.0L564.0,580.8L570.8,587.5L570.8,609.5L564.0,618.0M462.8,549.0L469.5,545.3L486.0,545.3L498.0,549.0L507.0,555.0L513.0,560.3M474.8,558.5L485.8,545.3M476.5,570.5L489.3,565.5L513.0,560.3L521.5,562.0L536.8,553.5L540.3,545.0M485.8,547.0L500.0,553.0L513.0,560.3M521.5,562.0L509.5,579.0L502.8,587.5L502.8,594.3L494.3,589.3L479.0,584.0M502.8,594.3L508.8,597.8L506.3,608.0L474.0,594.3M506.3,608.0L508.8,613.0L519.8,611.3L536.8,618.0L543.5,616.5M508.8,613.0L509.5,628.3L514.8,636.8L504.5,642.0L491.0,637.0M514.8,636.8L526.5,626.5L538.5,623.3M504.5,642.0L504.5,653.8L508.0,660.5M514.8,636.8L518.0,647.0L514.8,655.5M477.3,613.0L494.3,613.0L506.3,608.0M494.3,613.0L489.3,621.5L491.0,637.0M479.0,619.8L489.3,617.0M478.0,604.0L490.0,607.0L494.3,613.0M480.0,623.0L489.3,621.5M476.0,600.0L488.0,602.0M514.8,636.8L524.0,644.0M514.8,636.8L530.0,641.0M520.0,632.0L534.0,637.0M526.5,626.5L537.0,630.0M504.5,648.0L497.0,661.0M504.5,648.0L490.0,659.0M496.0,645.0L484.0,656.0M504.5,653.8L502.0,661.0M509.0,650.0L512.0,657.0M518.0,647.0L521.0,655.0M564.0,580.8L550.5,589.3L543.5,602.8L543.5,614.8M550.5,589.3L557.3,594.3L562.3,606.3L562.3,619.0M550.5,596.0L553.8,613.0M570.8,587.5L584.5,587.5L594.5,577.3M584.5,587.5L589.5,596.0L594.5,601.0M570.8,600.0L580.0,606.0L583.0,614.0M570.8,609.5L577.5,616.5M580.0,597.0L589.0,604.0M584.5,587.5L594.0,590.0M587.8,545.0L594.5,558.5L604.8,562.0M594.5,558.5L605.0,552.0M594.5,565.0L601.0,568.0M594.5,572.0L596.0,580.0M588.5,435.0L603.0,436.0M593.0,441.0L608.0,447.0M596.0,450.0L601.0,455.0M590.0,468.5L601.0,463.0M596.0,428.0L611.0,420.0M599.0,412.5L610.0,416.0M495.0,172.5L493.5,193.5L499.5,196.5L502.5,174.0M520.5,180.0L516.0,199.5L499.5,207.0L493.5,228.0L480.0,240.0M535.5,181.5L531.0,199.5L516.0,222.0L502.5,234.0L483.0,258.0M546.0,198.0L532.5,199.5L531.0,219.0L516.0,223.5M554.0,210.0L540.0,213.0L531.0,219.0M555.0,228.0L534.0,231.0L517.5,243.0L496.5,270.0M562.0,238.5L556.5,246.0L553.5,270.0L555.0,270.0M570.0,240.0L570.0,255.0M440.0,160.0L448.0,170.0L452.0,186.0L463.5,189.0M429.0,193.5L440.0,190.0L452.0,186.0M398.0,146.0L395.0,152.0L384.0,152.0M400.0,128.0L394.0,122.0M406.0,123.0L404.0,118.0M419.0,124.0L421.0,117.0M425.0,132.0L433.0,130.0M430.0,140.0L443.0,140.0M392.0,200.0L402.0,204.0L412.0,200.0L421.0,205.0L429.0,200.0M390.0,213.0L400.0,217.0L403.5,215.0M429.9,118.9L424.8,122.8M432.0,121.6L428.1,123.2M428.1,123.2L432.9,125.0M432.9,125.0L428.7,125.1M434.2,128.2L428.2,130.2M428.2,130.2L436.6,130.6M436.6,130.6L433.9,134.0M439.5,132.6L436.5,137.5M436.5,137.5L441.6,135.2M441.6,135.2L435.7,139.4M442.6,138.5L439.3,138.8M439.3,138.8L442.9,142.0M442.9,142.0L437.5,143.1M444.9,144.8L438.3,149.2M438.3,149.2L447.0,147.6M447.0,147.6L441.2,151.3M448.7,150.6L443.5,151.7M443.5,151.7L450.0,153.9M450.0,153.9L443.7,155.8M451.3,157.1L445.5,159.3M445.5,159.3L453.1,160.2M453.1,160.2L447.6,163.0M454.9,163.2L449.7,167.7M449.7,167.7L457.0,166.0M457.0,166.0L451.1,171.7M459.4,168.5L455.7,172.2M455.7,172.2L461.5,171.2M424.8,122.8L428.1,123.2L428.7,125.1L428.2,130.2L433.9,134.0L436.5,137.5L435.7,139.4L439.3,138.8L437.5,143.1L438.3,149.2L441.2,151.3L443.5,151.7L443.7,155.8L445.5,159.3L447.6,163.0L449.7,167.7L451.1,171.7L455.7,172.2M394.0,117.6L394.3,121.6M398.0,117.3L399.1,125.3M399.1,125.3L402.0,117.3M402.0,117.3L401.3,126.5M406.0,117.4L406.0,124.6M406.0,124.6L410.0,117.5M410.0,117.5L411.3,125.9M414.0,117.5L412.9,125.8M412.9,125.8L418.0,117.2M418.0,117.2L420.2,125.8M421.9,116.8L422.1,123.4M422.1,123.4L425.9,116.4M385.2,161.3L390.3,156.4M382.6,157.7L387.5,156.2M387.5,156.2L382.2,153.2M382.2,153.2L388.3,152.3M381.9,148.7L391.4,148.4M391.4,148.4L382.1,144.2M382.1,144.2L392.7,146.0M382.5,139.7L392.6,140.5M392.6,140.5L383.0,135.3M383.0,135.3L392.5,138.4M384.2,130.9L389.8,131.9M389.8,131.9L385.4,126.6M385.4,126.6L392.5,129.5M387.2,122.5L392.3,125.8M392.3,125.8L389.5,118.7M390.3,156.4L387.5,156.2L388.3,152.3L391.4,148.4L392.7,146.0L392.6,140.5L392.5,138.4L389.8,131.9L392.5,129.5L392.3,125.8M466.8,170.4L467.8,178.6M471.7,170.6L471.8,178.9M471.8,178.9L476.6,170.4M476.6,170.4L476.1,179.6M481.4,168.9L485.6,177.8M485.6,177.8L486.0,167.0M486.0,167.0L484.5,171.9M489.6,170.3L483.9,175.0M483.9,175.0L494.2,172.2M494.2,172.2L491.9,177.3M499.2,172.1L497.5,175.8M497.5,175.8L504.2,171.6M504.2,171.6L503.7,175.0M509.1,171.9L509.0,179.0M509.0,179.0L514.1,172.3M514.1,172.3L511.3,177.3M517.5,175.2L514.8,180.7M514.8,180.7L520.2,179.5M520.2,179.5L516.3,183.5M524.9,180.0L523.7,184.4M523.7,184.4L529.8,180.4M529.8,180.4L527.3,186.8M534.7,181.3L534.2,188.8M534.2,188.8L539.7,181.1M539.7,181.1L536.7,188.3M547.8,186.9L542.9,189.9M548.6,190.1L543.9,188.8M543.9,188.8L547.2,193.5M547.2,193.5L541.8,192.3M546.1,196.8L540.9,198.0M540.9,198.0L547.8,200.0M547.8,200.0L543.0,203.8M549.4,203.2L544.8,205.3M544.8,205.3L551.1,206.3M551.1,206.3L546.5,207.8M553.4,209.2L549.5,210.1M549.5,210.1L554.3,212.5M554.3,212.5L550.2,213.5M554.8,216.1L549.9,218.0M549.9,218.0L555.0,219.7M555.0,219.7L549.6,219.1M555.0,223.3L550.1,224.3M550.1,224.3L556.1,226.5M556.1,226.5L551.7,229.4M558.3,229.4L554.6,231.2M554.6,231.2L560.0,232.5M560.0,232.5L556.2,235.5M561.1,235.9L555.9,237.4M555.9,237.4L562.9,238.7M562.9,238.7L559.2,244.5M566.4,239.3L564.9,245.3M564.9,245.3L569.9,240.0M569.9,240.0L569.7,245.3M573.5,240.3L572.2,245.3M572.2,245.3L577.1,240.6M577.1,240.6L574.3,247.2M579.8,242.3L575.6,246.3M575.6,246.3L581.6,245.4M581.6,245.4L575.8,246.0M582.5,248.7L576.6,248.9M576.6,248.9L581.8,252.2M581.8,252.2L575.4,251.9M581.0,255.7L574.5,253.2M574.5,253.2L579.6,258.9M579.6,258.9L575.3,256.7M577.1,261.4L573.0,258.5M573.0,258.5L576.9,264.4M576.9,264.4L570.5,265.7M578.5,267.6L576.5,271.5M576.5,271.5L581.5,268.0M581.5,268.0L581.9,274.3M585.1,267.2L584.0,272.1M584.0,272.1L588.6,267.5M588.6,267.5L586.6,272.4M592.1,268.1L590.5,272.5M590.5,272.5L594.8,270.0M594.8,270.0L590.3,273.4M596.4,273.2L592.2,273.3M592.2,273.3L596.4,276.6M596.4,276.6L590.5,275.2M595.4,280.1L589.8,278.6M589.8,278.6L594.4,283.5M594.4,283.5L589.8,283.1M595.1,286.7L590.3,288.9M590.3,288.9L597.1,289.7M597.1,289.7L592.4,292.9M599.1,292.7L596.2,295.9M596.2,295.9L600.9,295.8M600.9,295.8L596.8,298.0M602.5,299.0L599.2,302.3M599.2,302.3L604.1,302.3M604.1,302.3L599.3,303.4M604.8,305.8L600.4,305.1M600.4,305.1L605.3,309.3M605.3,309.3L600.6,311.2M605.7,312.9L602.4,314.0M602.4,314.0L606.4,316.4M606.4,316.4L603.7,318.7M607.4,319.9L604.7,320.7M604.7,320.7L608.4,323.4M608.4,323.4L605.0,325.7M609.4,326.8L605.4,328.1M605.4,328.1L610.6,330.2M610.6,330.2L605.4,331.1M611.7,333.6L604.7,334.1M604.7,334.1L610.9,337.0M610.9,337.0L605.0,335.0M609.5,340.3L604.6,336.9M604.6,336.9L608.1,343.6M608.1,343.6L603.0,342.5M606.8,346.9L602.5,344.2M602.5,344.2L605.5,350.3M605.5,350.3L599.4,347.1M604.2,353.7L601.1,352.6M601.1,352.6L602.5,356.8M602.5,356.8L597.9,355.6M600.2,359.6L596.7,355.1M596.7,355.1L598.0,362.4M598.0,362.4L595.3,360.5M597.0,365.8L594.7,365.4M594.7,365.4L596.4,369.3M596.4,369.3L589.3,370.2M596.8,372.4L595.0,374.6M595.0,374.6L600.1,373.8M600.1,373.8L598.5,379.2M603.4,375.2L600.5,379.2M600.5,379.2L606.4,376.8M606.4,376.8L601.5,377.5M605.7,380.3L601.2,378.9M601.2,378.9L604.9,383.8M604.9,383.8L601.3,382.2M604.1,387.3L598.2,386.0M598.2,386.0L603.7,390.8M603.7,390.8L599.4,389.7M604.6,394.3L599.2,394.8M599.2,394.8L605.5,397.8M605.5,397.8L601.9,397.9M606.3,401.3L600.2,400.9M600.2,400.9L605.0,404.5M605.0,404.5L599.4,401.8M603.2,407.5L599.3,405.3M599.3,405.3L603.1,410.2M603.1,410.2L598.6,413.8M606.1,412.2L603.0,414.9M603.0,414.9L609.1,414.2M609.1,414.2L605.3,417.8M611.2,416.8L606.3,417.3M606.3,417.3L611.8,420.3M611.8,420.3L606.9,421.8M612.4,423.9L607.5,422.0M607.5,422.0L610.0,426.2M610.0,426.2L606.0,422.2M607.0,428.2L606.0,425.9M606.0,425.9L604.0,430.1M604.0,430.1L599.0,428.7M603.5,433.5L598.7,431.7M598.7,431.7L603.5,437.1M603.5,437.1L598.8,437.1M603.5,440.7L599.8,440.9M599.8,440.9L606.1,443.0M606.1,443.0L602.2,446.0M609.0,445.1L604.1,445.3M604.1,445.3L607.0,447.0M607.0,447.0L604.7,443.7M603.9,448.9L600.7,445.0M600.7,445.0L601.6,451.4M601.6,451.4L595.9,447.9M600.6,454.8L593.1,454.8M593.1,454.8L600.8,458.4M600.8,458.4L594.1,459.8M601.2,462.0L595.4,463.3M595.4,463.3L601.6,465.5M601.6,465.5L594.6,466.2M601.9,469.1L597.9,470.5M597.9,470.5L602.3,472.7M602.3,472.7L596.6,474.4M602.6,476.3L597.7,476.1M597.7,476.1L603.0,479.9M603.0,479.9L598.4,479.8M603.3,483.5L600.5,484.2M600.5,484.2L604.1,487.0M604.1,487.0L599.2,488.8M605.1,490.4L598.9,492.7M598.9,492.7L606.2,493.9M606.2,493.9L600.7,495.6M607.2,497.3L600.7,499.7M600.7,499.7L608.4,500.7M608.4,500.7L603.2,501.7M610.0,503.9L603.7,506.5M603.7,506.5L610.6,507.2M610.6,507.2L604.2,506.4M609.5,510.6L605.3,509.8M605.3,509.8L608.3,514.0M608.3,514.0L603.6,511.5M607.6,517.6L603.0,517.6M603.0,517.6L607.1,521.1M607.1,521.1L602.9,519.1M606.6,524.7L602.3,524.9M602.3,524.9L606.5,528.3M606.5,528.3L601.4,527.6M606.5,531.9L601.3,531.8M601.3,531.8L606.5,535.5M606.5,535.5L603.8,534.6M606.5,539.1L601.3,537.2M601.3,537.2L605.9,542.6M605.9,542.6L602.0,543.2M605.3,546.2L599.8,544.9M599.8,544.9L605.3,549.7M605.3,549.7L598.1,550.5M605.9,553.3L602.1,555.2M602.1,555.2L606.5,556.8M606.5,556.8L603.5,556.6M542.9,189.9L543.9,188.8L541.8,192.3L540.9,198.0L543.0,203.8L544.8,205.3L546.5,207.8L549.5,210.1L550.2,213.5L549.9,218.0L549.6,219.1L550.1,224.3L551.7,229.4L554.6,231.2L556.2,235.5L555.9,237.4L559.2,244.5L564.9,245.3L569.7,245.3L572.2,245.3L574.3,247.2L575.6,246.3L575.8,246.0L576.6,248.9L575.4,251.9L574.5,253.2L575.3,256.7L573.0,258.5L570.5,265.7L576.5,271.5L581.9,274.3L584.0,272.1L586.6,272.4L590.5,272.5L590.3,273.4L592.2,273.3L590.5,275.2L589.8,278.6L589.8,283.1L590.3,288.9L592.4,292.9L596.2,295.9L596.8,298.0L599.2,302.3L599.3,303.4L600.4,305.1L600.6,311.2L602.4,314.0L603.7,318.7L604.7,320.7L605.0,325.7L605.4,328.1L605.4,331.1L604.7,334.1L605.0,335.0L604.6,336.9L603.0,342.5L602.5,344.2L599.4,347.1L601.1,352.6L597.9,355.6L596.7,355.1L595.3,360.5L594.7,365.4L589.3,370.2L595.0,374.6L598.5,379.2L600.5,379.2L601.5,377.5L601.2,378.9L601.3,382.2L598.2,386.0L599.4,389.7L599.2,394.8L601.9,397.9L600.2,400.9L599.4,401.8L599.3,405.3L598.6,413.8L603.0,414.9L605.3,417.8L606.3,417.3L606.9,421.8L607.5,422.0L606.0,422.2L606.0,425.9L599.0,428.7L598.7,431.7L598.8,437.1L599.8,440.9L602.2,446.0L604.1,445.3L604.7,443.7L600.7,445.0L595.9,447.9L593.1,454.8L594.1,459.8L595.4,463.3L594.6,466.2L597.9,470.5L596.6,474.4L597.7,476.1L598.4,479.8L600.5,484.2L599.2,488.8L598.9,492.7L600.7,495.6L600.7,499.7L603.2,501.7L603.7,506.5L604.2,506.4L605.3,509.8L603.6,511.5L603.0,517.6L602.9,519.1L602.3,524.9L601.4,527.6L601.3,531.8L603.8,534.6L601.3,537.2L602.0,543.2L599.8,544.9L598.1,550.5L602.1,555.2L603.5,556.6M602.7,564.8L596.3,559.0M600.7,567.7L593.6,561.2M593.6,561.2L598.6,570.5M598.6,570.5L594.4,567.8M597.1,573.5L590.2,571.1M590.2,571.1L596.4,577.0M596.4,577.0L591.3,574.5M595.8,580.4L588.8,577.9M588.8,577.9L595.2,583.9M595.2,583.9L587.1,583.4M594.5,587.3L588.1,586.4M588.1,586.4L594.5,590.8M594.5,590.8L585.7,590.4M594.5,594.3L587.2,593.0M587.2,593.0L594.5,597.8M594.5,597.8L590.1,597.1M594.3,601.3L585.2,598.1M585.2,598.1L592.6,604.3M592.6,604.3L585.6,600.4M590.8,607.3L584.5,603.1M584.5,603.1L588.7,610.0M588.7,610.0L584.9,605.5M585.7,611.7L582.6,604.3M582.6,604.3L582.6,613.5M582.6,613.5L578.5,607.3M579.6,615.3L575.6,607.2M575.6,607.2L576.5,616.6M576.5,616.6L573.4,607.9M573.0,616.8L571.8,611.2M571.8,611.2L569.5,617.2M569.5,617.2L566.8,608.9M566.2,618.4L564.3,612.3M564.3,612.3L562.9,619.6M562.9,619.6L561.9,613.2M559.8,618.5L563.2,609.7M563.2,609.7L556.7,616.9M556.7,616.9L561.9,608.9M553.5,615.4L554.7,609.2M554.7,609.2L550.2,614.2M596.3,559.0L593.6,561.2L594.4,567.8L590.2,571.1L591.3,574.5L588.8,577.9L587.1,583.4L588.1,586.4L585.7,590.4L587.2,593.0L590.1,597.1L585.2,598.1L585.6,600.4L584.5,603.1L584.9,605.5L582.6,604.3L578.5,607.3L575.6,607.2L573.4,607.9L571.8,611.2L566.8,608.9L564.3,612.3L561.9,613.2L563.2,609.7L561.9,608.9L554.7,609.2M544.5,615.5L539.4,611.1M542.3,618.2L538.4,616.1M538.4,616.1L540.2,621.0M540.2,621.0L534.2,616.9M538.5,623.9L532.3,621.7M532.3,621.7L538.2,627.4M538.2,627.4L533.2,628.4M538.0,630.9L533.4,630.6M533.4,630.6L537.2,634.2M537.2,634.2L530.0,630.0M534.8,636.7L530.8,633.1M530.8,633.1L532.5,639.3M532.5,639.3L527.8,635.2M530.1,641.9L526.1,639.2M526.1,639.2L527.1,643.7M527.1,643.7L523.2,637.6M524.1,645.5L521.4,643.2M521.4,643.2L521.6,647.5M521.6,647.5L515.8,646.6M522.3,650.9L516.2,651.0M516.2,651.0L523.1,654.3M523.1,654.3L517.7,654.0M521.0,655.9L518.9,650.3M518.9,650.3L517.6,656.5M517.6,656.5L516.7,649.4M514.1,657.1L511.3,651.6M511.3,651.6L511.0,658.6M511.0,658.6L507.3,651.8M508.1,660.4L506.6,656.2M506.6,656.2L504.6,661.0M504.6,661.0L502.7,656.5M501.2,661.5L499.9,654.5M499.9,654.5L497.7,662.0M497.7,662.0L496.1,655.1M494.3,661.8L496.8,656.4M496.8,656.4L491.0,660.7M491.0,660.7L493.2,652.9M487.7,659.6L490.9,655.5M490.9,655.5L484.6,658.0M484.6,658.0L486.2,653.6M481.9,655.8L485.9,650.0M485.9,650.0L479.2,653.6M539.4,611.1L538.4,616.1L534.2,616.9L532.3,621.7L533.2,628.4L533.4,630.6L530.0,630.0L530.8,633.1L527.8,635.2L526.1,639.2L523.2,637.6L521.4,643.2L515.8,646.6L516.2,651.0L517.7,654.0L518.9,650.3L516.7,649.4L511.3,651.6L507.3,651.8L506.6,656.2L502.7,656.5L499.9,654.5L496.1,655.1L496.8,656.4L493.2,652.9L490.9,655.5L486.2,653.6L485.9,650.0M482.7,649.4L488.4,654.8M487.7,646.4L490.8,649.2M490.8,649.2L489.7,640.7M489.7,640.7L495.9,643.6M489.8,635.4L497.4,631.3M497.4,631.3L486.2,630.6M486.2,630.6L492.5,626.8M482.7,625.7L486.4,623.9M486.4,623.9L480.0,620.4M480.0,620.4L487.8,618.0M478.2,614.7L482.2,612.6M482.2,612.6L476.4,609.0M476.4,609.0L485.9,605.2M474.9,603.1L480.0,604.1M480.0,604.1L474.0,597.3M474.0,597.3L477.3,594.7M474.0,591.3L482.4,593.7M482.4,593.7L475.2,585.4M475.2,585.4L485.4,589.2M476.5,579.7L481.2,582.4M481.2,582.4L476.5,573.7M476.5,573.7L482.3,574.2M476.1,567.7L482.0,566.2M482.0,566.2L475.3,561.7M475.3,561.7L478.2,559.0M472.7,556.8L479.8,550.9M479.8,550.9L468.1,552.9M468.1,552.9L472.2,545.2M463.3,549.3L471.6,544.1M471.6,544.1L461.5,543.8M461.5,543.8L466.3,542.1M460.8,537.9L468.1,537.5M468.1,537.5L461.8,532.0M461.8,532.0L468.2,531.7M461.0,526.1L470.3,521.6M470.3,521.6L458.6,520.7M458.6,520.7L461.0,520.3M455.3,515.7L462.1,515.5M462.1,515.5L454.5,510.0M454.5,510.0L459.7,512.1M455.1,504.1L461.2,507.0M461.2,507.0L457.5,498.6M457.5,498.6L462.3,498.2M458.9,492.9L468.9,494.2M468.9,494.2L458.5,486.9M458.5,486.9L465.0,484.7M457.6,481.0L466.6,482.0M466.6,482.0L456.5,475.1M456.5,475.1L461.5,472.8M454.1,469.7L462.3,464.8M462.3,464.8L450.8,464.7M450.8,464.7L459.0,462.0M448.0,459.4L455.7,454.9M455.7,454.9L445.3,454.1M445.3,454.1L450.3,452.8M442.9,448.5L446.3,447.6M446.3,447.6L440.4,443.1M440.4,443.1L443.6,438.1M437.3,438.0L442.2,435.9M442.2,435.9L433.2,433.7M433.2,433.7L441.7,426.5M428.9,429.4L431.0,426.1M431.0,426.1L425.7,424.6M425.7,424.6L432.5,419.8M421.1,395.6L428.2,392.6M418.6,391.3L428.2,387.7M428.2,387.7L416.5,386.8M416.5,386.8L423.7,383.9M415.3,381.9L422.6,380.3M422.6,380.3L413.4,377.4M413.4,377.4L418.1,373.2M410.5,373.3L417.1,370.0M417.1,370.0L407.5,369.3M407.5,369.3L412.5,366.4M403.8,366.0L407.9,361.1M407.9,361.1L399.9,362.8M399.9,362.8L410.2,358.5M401.3,358.4L410.3,361.5M410.3,361.5L402.0,353.5M402.0,353.5L410.1,353.7M402.3,348.5L407.2,350.4M407.2,350.4L401.9,343.8M401.9,343.8L411.4,340.1M398.8,339.9L406.1,332.7M406.1,332.7L395.5,336.0M395.5,336.0L405.1,329.3M393.4,331.7L401.7,327.3M401.7,327.3L391.8,326.9M391.8,326.9L397.4,323.5M390.3,322.1L397.2,320.7M397.2,320.7L388.8,317.4M388.8,317.4L393.1,314.6M387.1,312.7L394.0,308.4M394.0,308.4L384.9,308.2M384.9,308.2L391.9,305.4M382.6,303.8L386.4,300.9M386.4,300.9L380.7,299.1M380.7,299.1L388.9,294.4M378.8,294.5L386.0,293.9M386.0,293.9L380.4,289.8M380.4,289.8L386.3,293.6M381.7,285.0L389.1,284.8M389.1,284.8L380.9,280.1M380.9,280.1L389.8,280.8M380.0,275.2L386.0,274.6M386.0,274.6L378.8,270.3M378.8,270.3L383.2,270.3M377.6,265.4L386.2,263.0M386.2,263.0L376.1,260.7M376.1,260.7L385.2,256.1M374.3,256.0L379.8,254.6M379.8,254.6L372.6,251.3M372.6,251.3L380.4,248.6M428.2,392.6L428.2,387.7L423.7,383.9L422.6,380.3L418.1,373.2L417.1,370.0L412.5,366.4L407.9,361.1L410.2,358.5L410.3,361.5L410.1,353.7L407.2,350.4L411.4,340.1L406.1,332.7L405.1,329.3L401.7,327.3L397.4,323.5L397.2,320.7L393.1,314.6L394.0,308.4L391.9,305.4L386.4,300.9L388.9,294.4L386.0,293.9L386.3,293.6L389.1,284.8L389.8,280.8L386.0,274.6L383.2,270.3L386.2,263.0L385.2,256.1L379.8,254.6L380.4,248.6M380.0,231.0L384.6,234.1M383.6,227.4L387.9,233.5M387.9,233.5L387.1,223.9M387.1,223.9L391.6,228.0M388.7,219.4L396.1,220.2M396.1,220.2L389.7,214.5M389.7,214.5L400.2,216.7M391.2,209.7L397.7,210.9M397.7,210.9L392.9,205.0M392.9,205.0L401.9,208.2M393.2,200.3L399.9,198.6M399.9,198.6L392.0,195.4" stroke="#000" stroke-width="1" fill="none" stroke-linejoin="round"/>
<path d="M427.5,116.3L430.0,119.0L432.0,121.5L433.5,127.5L437.0,131.0L441.0,133.5L442.5,138.0L443.0,142.5L446.0,146.0L448.5,150.0L451.5,157.5L456.0,165.0L459.0,168.0L462.0,171.8M480.0,169.5L486.0,167.0L489.0,170.0L492.0,171.5L495.0,172.5M546.0,183.8L549.0,189.0L546.0,196.5L550.5,205.5L554.0,210.0L555.0,218.0L555.0,225.0L559.5,231.0L562.0,238.5L570.0,240.0L579.0,240.8L582.8,247.5L580.5,258.0L576.0,262.5L579.0,268.5L586.0,267.0L594.0,268.5L597.0,274.5L594.0,285.0L600.0,294.0L604.5,303.0L606.0,315.0L609.0,325.5L612.0,334.5L607.5,345.0L603.5,355.5L597.5,363.0L596.0,372.0L606.5,376.5L603.5,390.0L606.5,402.0L602.0,409.5L611.0,415.5L612.5,424.5L603.5,430.5L603.5,441.0L609.5,445.5L602.0,450.0L600.5,455.0L602.0,470.0L603.5,485.0L608.0,500.0L611.0,506.0L608.0,515.0L606.5,525.5L606.5,539.0L605.0,548.0L606.5,557.0L604.8,562.0M604.8,562.0L597.3,572.3L594.5,587.5L594.5,601.0L589.5,609.5M530.0,642.0L521.5,647.0L523.3,655.5L513.0,657.3L508.0,660.5L496.0,662.3L485.8,659.0L477.3,652.0" stroke="#000" stroke-width="1.8" fill="none" stroke-linejoin="round"/>
</g>
<rect x="272.05" y="71.05" width="454.95" height="658.8" fill="none" stroke="#000" stroke-width="1.9"/>
<path d="M298.4,730V734.8M349.3,730V734.8M400.1,730V734.8M451.0,730V734.8M501.9,730V734.8M552.8,730V734.8M603.6,730V734.8M654.5,730V734.8M705.4,730V734.8M267.5,103.4H272M267.5,166.6H272M267.5,229.8H272M267.5,293.0H272M267.5,356.2H272M267.5,419.4H272M267.5,482.6H272M267.5,545.8H272M267.5,609.0H272M267.5,672.2H272" stroke="#000" stroke-width="1.2" fill="none"/>
<text transform="translate(263.7,108.9) scale(.89,1)" font-size="14.5" text-anchor="end">15.65N</text>
<text transform="translate(263.7,172.1) scale(.89,1)" font-size="14.5" text-anchor="end">15.6N</text>
<text transform="translate(263.7,235.3) scale(.89,1)" font-size="14.5" text-anchor="end">15.55N</text>
<text transform="translate(263.7,298.5) scale(.89,1)" font-size="14.5" text-anchor="end">15.5N</text>
<text transform="translate(263.7,361.7) scale(.89,1)" font-size="14.5" text-anchor="end">15.45N</text>
<text transform="translate(263.7,424.9) scale(.89,1)" font-size="14.5" text-anchor="end">15.4N</text>
<text transform="translate(263.7,488.1) scale(.89,1)" font-size="14.5" text-anchor="end">15.35N</text>
<text transform="translate(263.7,551.3) scale(.89,1)" font-size="14.5" text-anchor="end">15.3N</text>
<text transform="translate(263.7,614.5) scale(.89,1)" font-size="14.5" text-anchor="end">15.25N</text>
<text transform="translate(263.7,677.7) scale(.89,1)" font-size="14.5" text-anchor="end">15.2N</text>
<text transform="translate(298.4,747.7) scale(.95,1)" font-size="13.6" text-anchor="middle">61.55W</text>
<text transform="translate(349.3,747.7) scale(.95,1)" font-size="13.6" text-anchor="middle">61.5W</text>
<text transform="translate(400.1,747.7) scale(.95,1)" font-size="13.6" text-anchor="middle">61.45W</text>
<text transform="translate(451.0,747.7) scale(.95,1)" font-size="13.6" text-anchor="middle">61.4W</text>
<text transform="translate(501.9,747.7) scale(.95,1)" font-size="13.6" text-anchor="middle">61.35W</text>
<text transform="translate(552.8,747.7) scale(.95,1)" font-size="13.6" text-anchor="middle">61.3W</text>
<text transform="translate(603.6,747.7) scale(.95,1)" font-size="13.6" text-anchor="middle">61.25W</text>
<text transform="translate(654.5,747.7) scale(.95,1)" font-size="13.6" text-anchor="middle">61.2W</text>
<text transform="translate(705.4,747.7) scale(.95,1)" font-size="13.6" text-anchor="middle">61.15W</text>
<text y="27.2" font-size="27.5" stroke="#fff" stroke-width=".7"><tspan x="171.7" textLength="131.9" lengthAdjust="spacingAndGlyphs">Caribbean</tspan> <tspan x="313.7" textLength="97.9" lengthAdjust="spacingAndGlyphs">Institute</tspan> <tspan x="423.7" textLength="35.4" lengthAdjust="spacingAndGlyphs">for</tspan> <tspan x="469.2" textLength="147.4" lengthAdjust="spacingAndGlyphs">Meteorology</tspan> <tspan x="633.2" textLength="46.4" lengthAdjust="spacingAndGlyphs">and</tspan> <tspan x="694.2" textLength="120.4" lengthAdjust="spacingAndGlyphs">Hydrology</tspan></text>
<text y="54.4" font-size="31" stroke="#fff" stroke-width=".8"><tspan x="70.2" textLength="186.6" lengthAdjust="spacingAndGlyphs">Aggregated</tspan> <tspan x="271.2" textLength="224.1" lengthAdjust="spacingAndGlyphs">precipitation(mm)</tspan> <tspan x="512.2" textLength="70.6" lengthAdjust="spacingAndGlyphs">DOM</tspan> <tspan x="593.2" textLength="70.6" lengthAdjust="spacingAndGlyphs">Valid</tspan> <tspan x="681.2" textLength="54.6" lengthAdjust="spacingAndGlyphs">10Z</tspan> <tspan x="750.2" textLength="89.6" lengthAdjust="spacingAndGlyphs">27/10</tspan> <tspan x="858.2" textLength="69.1" lengthAdjust="spacingAndGlyphs">2014</tspan></text>
<path d="M854.2,122.5L863.4,80L872.6,122.5Z" fill="#f00082" stroke="#000" stroke-width="1"/>
<rect x="854.2" y="122.50" width="18.4" height="42.75" fill="#fa3c3c" stroke="#000" stroke-width="1"/>
<rect x="854.2" y="165.25" width="18.4" height="42.75" fill="#f08228" stroke="#000" stroke-width="1"/>
<rect x="854.2" y="208.00" width="18.4" height="42.75" fill="#e6af2d" stroke="#000" stroke-width="1"/>
<rect x="854.2" y="250.75" width="18.4" height="42.75" fill="#e6dc32" stroke="#000" stroke-width="1"/>
<rect x="854.2" y="293.50" width="18.4" height="42.75" fill="#a0e632" stroke="#000" stroke-width="1"/>
<rect x="854.2" y="336.25" width="18.4" height="42.75" fill="#00dc00" stroke="#000" stroke-width="1"/>
<rect x="854.2" y="379.00" width="18.4" height="42.75" fill="#00d28c" stroke="#000" stroke-width="1"/>
<rect x="854.2" y="421.75" width="18.4" height="42.75" fill="#00c8c8" stroke="#000" stroke-width="1"/>
<rect x="854.2" y="464.50" width="18.4" height="42.75" fill="#00a0ff" stroke="#000" stroke-width="1"/>
<rect x="854.2" y="507.25" width="18.4" height="42.75" fill="#1e3cff" stroke="#000" stroke-width="1"/>
<rect x="854.2" y="550.00" width="18.4" height="42.75" fill="#8200dc" stroke="#000" stroke-width="1"/>
<rect x="854.2" y="592.75" width="18.4" height="42.75" fill="#a000c8" stroke="#000" stroke-width="1"/>
<rect x="854.2" y="635.50" width="18.4" height="42.75" fill="#aaaaaa" stroke="#000" stroke-width="1"/>
<path d="M854.2,678.25L863.4,720.2L872.6,678.25Z" fill="#fff" stroke="#000" stroke-width="1"/>
<text transform="translate(878.3,128.9) scale(1.12,1)" font-size="16" letter-spacing="0.9" stroke="#fff" stroke-width=".3">250</text>
<text transform="translate(878.3,171.7) scale(1.12,1)" font-size="16" letter-spacing="0.9" stroke="#fff" stroke-width=".3">220</text>
<text transform="translate(878.3,214.4) scale(1.12,1)" font-size="16" letter-spacing="0.9" stroke="#fff" stroke-width=".3">180</text>
<text transform="translate(878.3,257.1) scale(1.12,1)" font-size="16" letter-spacing="0.9" stroke="#fff" stroke-width=".3">140</text>
<text transform="translate(878.3,299.9) scale(1.12,1)" font-size="16" letter-spacing="0.9" stroke="#fff" stroke-width=".3">110</text>
<text transform="translate(878.3,342.6) scale(1.12,1)" font-size="16" letter-spacing="0.9" stroke="#fff" stroke-width=".3">80</text>
<text transform="translate(878.3,385.4) scale(1.12,1)" font-size="16" letter-spacing="0.9" stroke="#fff" stroke-width=".3">50</text>
<text transform="translate(878.3,428.1) scale(1.12,1)" font-size="16" letter-spacing="0.9" stroke="#fff" stroke-width=".3">30</text>
<text transform="translate(878.3,470.9) scale(1.12,1)" font-size="16" letter-spacing="0.9" stroke="#fff" stroke-width=".3">25</text>
<text transform="translate(878.3,513.6) scale(1.12,1)" font-size="16" letter-spacing="0.9" stroke="#fff" stroke-width=".3">20</text>
<text transform="translate(878.3,556.4) scale(1.12,1)" font-size="16" letter-spacing="0.9" stroke="#fff" stroke-width=".3">15</text>
<text transform="translate(878.3,599.1) scale(1.12,1)" font-size="16" letter-spacing="0.9" stroke="#fff" stroke-width=".3">10</text>
<text transform="translate(878.3,641.9) scale(1.12,1)" font-size="16" letter-spacing="0.9" stroke="#fff" stroke-width=".3">5</text>
<text transform="translate(878.3,684.6) scale(1.12,1)" font-size="16" letter-spacing="0.9" stroke="#fff" stroke-width=".3">1</text>
</svg></body></html>
